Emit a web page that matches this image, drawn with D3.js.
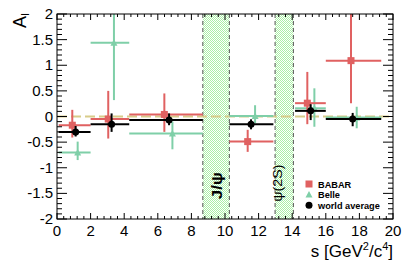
<!DOCTYPE html>
<html><head><meta charset="utf-8">
<script src="https://cdn.jsdelivr.net/npm/d3@7"></script>
<style>body{margin:0;background:#fff}svg{display:block;font-family:"Liberation Sans",Arial,sans-serif}</style>
</head><body><svg id="c" width="409" height="263"></svg>
<script>
// [s, binLow, binHigh, A_I, errUp, errDown]
const babar = [
  [0.91, 0.1, 2.0, -0.17, 0.30, 0.24],
  [3.05, 2.0, 4.3, -0.05, 0.55, 0.38],
  [6.39, 4.3, 8.68, 0.04, 0.41, 0.34],
  [11.35, 10.26, 12.88, -0.49, 0.23, 0.20],
  [14.9, 14.17, 16.0, 0.26, 0.61, 0.41],
  [17.5, 16.0, 19.3, 1.09, 0.95, 0.83]
];
const belle = [
  [1.23, 0.1, 2.0, -0.70, 0.21, 0.15],
  [3.39, 2.0, 4.3, 1.44, 0.70, 1.12],
  [6.87, 4.3, 8.68, -0.33, 0.23, 0.31],
  [11.79, 10.26, 12.88, 0.01, 0.21, 0.14],
  [15.32, 14.17, 16.0, 0.16, 0.39, 0.36],
  [17.84, 16.0, 19.3, -0.02, 0.21, 0.21]
];
const worldAvg = [
  [1.11, 0.1, 2.0, -0.30, 0.115, 0.09],
  [3.25, 2.0, 4.3, -0.15, 0.21, 0.15],
  [6.67, 4.3, 8.68, -0.07, 0.13, 0.10],
  [11.55, 10.26, 12.88, -0.15, 0.095, 0.10],
  [15.1, 14.17, 16.0, 0.11, 0.13, 0.18],
  [17.6, 16.0, 19.3, -0.05, 0.12, 0.14]
];
const vetoBands = [["J/ψ", 8.68, 10.26], ["ψ(2S)", 12.98, 14.07]];
const xTicks = [0, 2, 4, 6, 8, 10, 12, 14, 16, 18, 20];
const yTicks = [-2, -1.5, -1, -0.5, 0, 0.5, 1, 1.5, 2];
const legendItems = ["BABAR", "Belle", "world average"];

const W = 409, H = 263, m = {l: 57, r: 16, t: 14, b: 44};
const svg = d3.select("#c");
const x = d3.scaleLinear().domain([0, 20]).range([m.l, W - m.r]);
const y = d3.scaleLinear().domain([-2, 2]).range([H - m.b, m.t]);

const defs = svg.append("defs");
const pat = defs.append("pattern").attr("id", "chk").attr("width", 2).attr("height", 2).attr("patternUnits", "userSpaceOnUse");
pat.append("rect").attr("width", 2).attr("height", 2).attr("fill", "#ffffff");
pat.append("rect").attr("width", 1).attr("height", 1).attr("fill", "#aaf0a6");
pat.append("rect").attr("x", 1).attr("y", 1).attr("width", 1).attr("height", 1).attr("fill", "#aaf0a6");
defs.append("clipPath").attr("id", "clip").append("rect")
  .attr("x", x(0)).attr("y", y(2)).attr("width", x(20) - x(0)).attr("height", y(-2) - y(2));

// bands
const bg = svg.append("g");
vetoBands.forEach(([lab, a, b]) => {
  bg.append("rect").attr("x", x(a)).attr("y", y(2)).attr("width", x(b) - x(a)).attr("height", y(-2) - y(2)).attr("fill", "url(#chk)");
  [a, b].forEach(v => bg.append("line").attr("x1", x(v)).attr("x2", x(v)).attr("y1", y(2)).attr("y2", y(-2))
    .attr("stroke", "#555").attr("stroke-width", 1).attr("stroke-dasharray", "4,3"));
});
const jx = (x(vetoBands[0][1]) + x(vetoBands[0][2])) / 2;
svg.append("text").attr("transform", `translate(${jx + 6},${y(-1.35)}) rotate(-90)`)
  .attr("text-anchor", "middle").attr("font-size", 14).attr("font-weight", "bold")
  .attr("textLength", 27).attr("lengthAdjust", "spacingAndGlyphs").text(vetoBands[0][0]);
const px = x(vetoBands[1][1]);
svg.append("text").attr("transform", `translate(${px + 7},${y(-1.3)}) rotate(-90)`)
  .attr("text-anchor", "middle").attr("font-size", 12)
  .attr("textLength", 37).attr("lengthAdjust", "spacingAndGlyphs").text(vetoBands[1][0]);

// zero line
svg.append("line").attr("x1", x(0)).attr("x2", x(20)).attr("y1", y(0)).attr("y2", y(0))
  .attr("stroke", "#d8cc8a").attr("stroke-width", 2).attr("stroke-dasharray", "10,4");

const plot = svg.append("g").attr("clip-path", "url(#clip)");
function drawSeries(data, color, marker) {
  const g = plot.append("g");
  data.forEach(d => {
    g.append("line").attr("x1", x(d[1])).attr("x2", x(d[2])).attr("y1", y(d[3])).attr("y2", y(d[3]))
      .attr("stroke", color).attr("stroke-width", 2);
    g.append("line").attr("x1", x(d[0])).attr("x2", x(d[0])).attr("y1", y(d[3] + d[4])).attr("y2", y(d[3] - d[5]))
      .attr("stroke", color).attr("stroke-width", 2);
    marker(g, x(d[0]), y(d[3]), color);
  });
}
const sq = (g, cx, cy, c) => g.append("rect").attr("x", cx - 3.5).attr("y", cy - 3.5).attr("width", 7).attr("height", 7).attr("fill", c);
const tri = (g, cx, cy, c) => g.append("path").attr("d", `M${cx},${cy - 3.5}L${cx + 3.5},${cy + 3}L${cx - 3.5},${cy + 3}Z`).attr("fill", c);
const dot = (g, cx, cy, c) => g.append("circle").attr("cx", cx).attr("cy", cy).attr("r", 3.5).attr("fill", c);
const colors = ["#e06161", "#7fcfa8", "#000000"];
drawSeries(belle, colors[1], tri);
drawSeries(babar, colors[0], sq);
drawSeries(worldAvg, colors[2], dot);

// frame & ticks
const ax = svg.append("g").attr("stroke", "#000").attr("stroke-width", 1);
ax.append("rect").attr("x", x(0)).attr("y", y(2)).attr("width", x(20) - x(0)).attr("height", y(-2) - y(2)).attr("fill", "none");
const xMinor = d3.range(0, 20.001, 0.4);
xMinor.forEach((v, i) => {
  const L = (i % 5 === 0) ? 6 : 3;
  ax.append("line").attr("x1", x(v)).attr("x2", x(v)).attr("y1", y(-2)).attr("y2", y(-2) - L);
  ax.append("line").attr("x1", x(v)).attr("x2", x(v)).attr("y1", y(2)).attr("y2", y(2) + L);
});
const yMinor = d3.range(-2, 2.001, 0.1);
yMinor.forEach((v, i) => {
  const L = (i % 5 === 0) ? 10 : 5;
  ax.append("line").attr("x1", x(0)).attr("x2", x(0) + L).attr("y1", y(v)).attr("y2", y(v));
  ax.append("line").attr("x1", x(20)).attr("x2", x(20) - L).attr("y1", y(v)).attr("y2", y(v));
});

const lab = svg.append("g").attr("font-size", 15).attr("fill", "#000");
xTicks.forEach(v => lab.append("text").attr("x", x(v)).attr("y", y(-2) + 17).attr("text-anchor", "middle").text(v));
yTicks.forEach(v => lab.append("text").attr("x", x(0) - 4).attr("y", y(v) + 5).attr("text-anchor", "end").text(v));

// axis titles
const xt = svg.append("text").attr("x", x(20)).attr("y", 257).attr("text-anchor", "end").attr("font-size", 17);
xt.append("tspan").text("s [GeV");
xt.append("tspan").attr("font-size", 11).attr("dy", -7).text("2");
xt.append("tspan").attr("dy", 7).text("/c");
xt.append("tspan").attr("font-size", 11).attr("dy", -7).text("4");
xt.append("tspan").attr("dy", 7).text("]");
const yt = svg.append("text").attr("transform", "translate(26,13) rotate(-90)").attr("text-anchor", "end").attr("font-size", 18);
yt.append("tspan").text("A");
yt.append("tspan").attr("font-size", 11).attr("dy", 3).text("I");

// legend
const markers = [sq, tri, dot];
legendItems.forEach((t, i) => {
  const ly = 184 + i * 10.6;
  markers[i](svg, 309, ly, colors[i]);
  svg.append("text").attr("x", 318).attr("y", ly + 3.8).attr("font-size", 9.2).attr("font-weight", "bold").text(t);
});
</script></body></html>
